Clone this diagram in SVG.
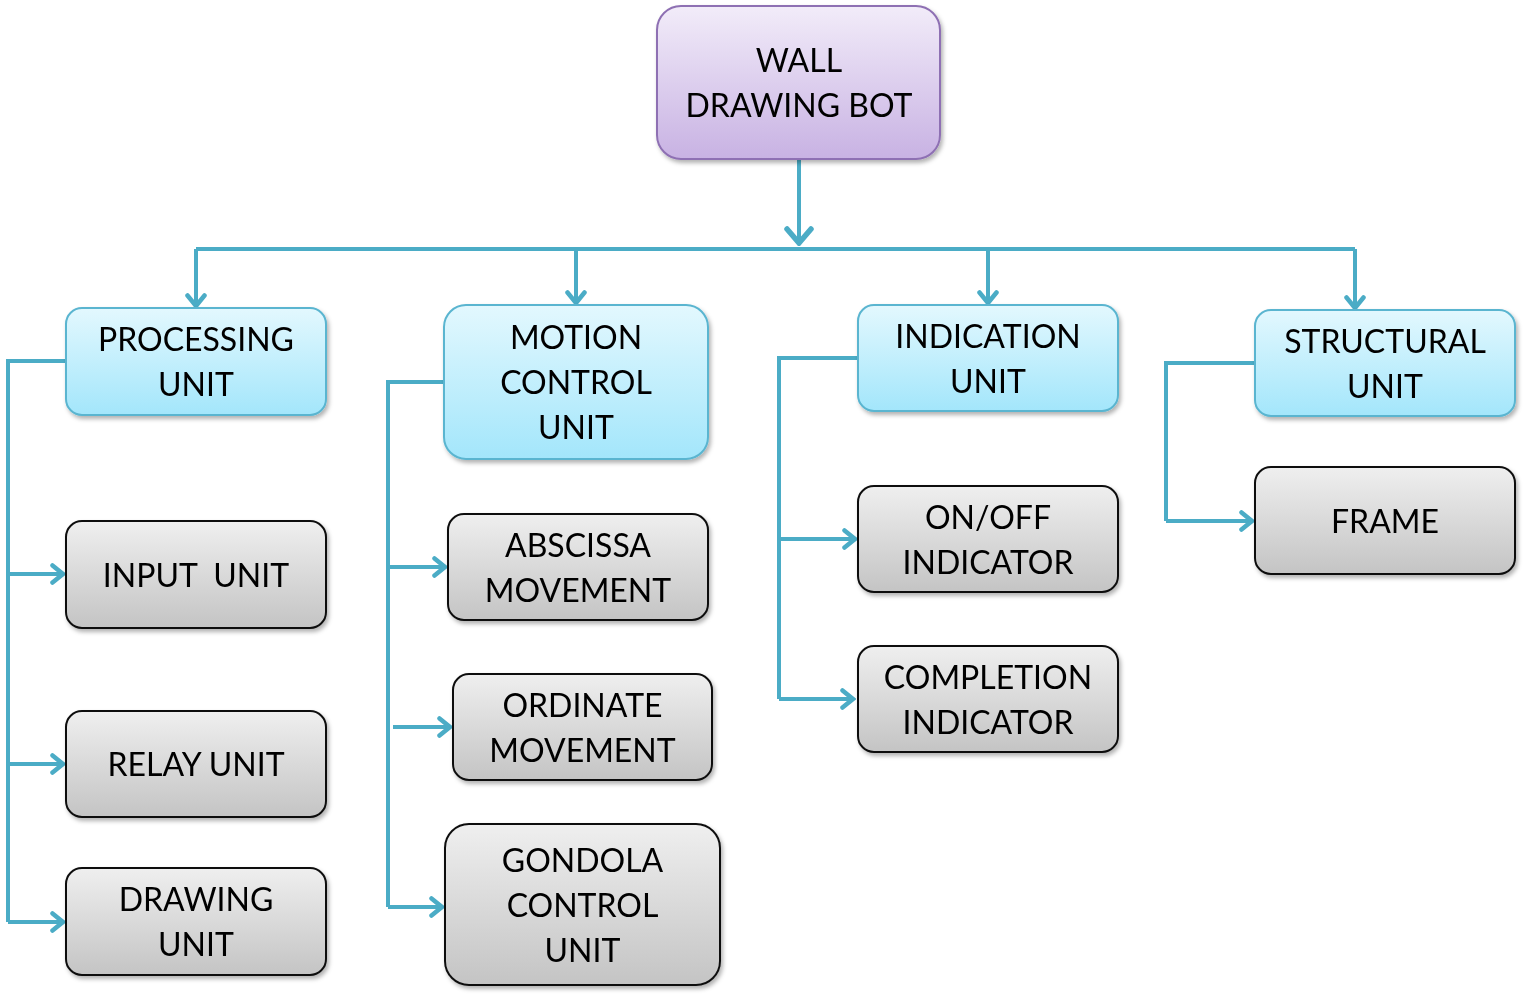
<svg xmlns="http://www.w3.org/2000/svg" width="1530" height="1005" viewBox="0 0 1530 1005">
<style>
text{font-family:Lato,"Open Sans","Liberation Sans",sans-serif;font-size:32px;fill:#000;text-anchor:middle}
.c{fill:none;stroke:#4bacc6;stroke-width:4;stroke-linejoin:miter}
.blue{fill:url(#gBlue);stroke:#5ab5d0;stroke-width:2}
.gray{fill:url(#gGray);stroke:#111;stroke-width:2}
.top{fill:url(#gPurple);stroke:#8e70b3;stroke-width:2}
</style>
<defs>
<linearGradient id="gBlue" x1="0" y1="0" x2="0" y2="1"><stop offset="0" stop-color="#e3f8fe"/><stop offset="1" stop-color="#a3e6fb"/></linearGradient>
<linearGradient id="gGray" x1="0" y1="0" x2="0" y2="1"><stop offset="0" stop-color="#efefef"/><stop offset="1" stop-color="#c4c4c4"/></linearGradient>
<linearGradient id="gPurple" x1="0" y1="0" x2="0" y2="1"><stop offset="0" stop-color="#f2ecf9"/><stop offset="1" stop-color="#c8b2e3"/></linearGradient>
<filter id="sh" x="-10%" y="-10%" width="130%" height="140%"><feDropShadow dx="2" dy="3" stdDeviation="2" flood-color="#000" flood-opacity="0.3"/></filter>
<marker id="ah" viewBox="0 0 16 22" refX="13" refY="11" markerWidth="16" markerHeight="22" markerUnits="userSpaceOnUse" orient="auto"><path d="M2.5,2.5 L13,11 L2.5,19.5" fill="none" stroke="#4bacc6" stroke-width="4.5" stroke-linecap="round"/></marker>
<marker id="ahBig" viewBox="0 0 20 30" refX="17" refY="15" markerWidth="20" markerHeight="30" markerUnits="userSpaceOnUse" orient="auto"><path d="M3,3 L17,15 L3,27" fill="none" stroke="#4bacc6" stroke-width="5.5" stroke-linecap="round"/></marker>
</defs>
<rect width="1530" height="1005" fill="#fff"/>
<g id="connectors">
<path class="c" d="M799,160 V243" stroke-width="5" marker-end="url(#ahBig)"/>
<path class="c" d="M196,249 H1355"/>
<path class="c" d="M196,249 V306" marker-end="url(#ah)"/>
<path class="c" d="M576,249 V303" marker-end="url(#ah)"/>
<path class="c" d="M988,249 V303" marker-end="url(#ah)"/>
<path class="c" d="M1355,249 V308" marker-end="url(#ah)"/>
<path class="c" d="M66,361 H8 V922"/>
<path class="c" d="M8,574 H63" marker-end="url(#ah)"/>
<path class="c" d="M8,764 H63" marker-end="url(#ah)"/>
<path class="c" d="M8,922 H63" marker-end="url(#ah)"/>
<path class="c" d="M444,382 H388 V907"/>
<path class="c" d="M388,567 H445" marker-end="url(#ah)"/>
<path class="c" d="M393,727 H450" marker-end="url(#ah)"/>
<path class="c" d="M388,907 H442" marker-end="url(#ah)"/>
<path class="c" d="M858,358 H779 V699"/>
<path class="c" d="M779,539 H855" marker-end="url(#ah)"/>
<path class="c" d="M779,699 H853" marker-end="url(#ah)"/>
<path class="c" d="M1255,363 H1166 V521"/>
<path class="c" d="M1166,521 H1252" marker-end="url(#ah)"/>
</g>
<g id="wall-drawing-bot" filter="url(#sh)"><rect class="top" x="657" y="6" width="283" height="153" rx="24"/><text x="799" y="71.5">WALL</text><text x="799" y="116.5">DRAWING BOT</text></g>
<g id="processing-unit" filter="url(#sh)"><rect class="blue" x="66" y="308" width="260" height="107" rx="16"/><text x="196" y="351">PROCESSING</text><text x="196" y="396">UNIT</text></g>
<g id="motion-control-unit" filter="url(#sh)"><rect class="blue" x="444" y="305" width="264" height="154" rx="22"/><text x="576" y="349">MOTION</text><text x="576" y="394">CONTROL</text><text x="576" y="439">UNIT</text></g>
<g id="indication-unit" filter="url(#sh)"><rect class="blue" x="858" y="305" width="260" height="106" rx="16"/><text x="988" y="347.5">INDICATION</text><text x="988" y="392.5">UNIT</text></g>
<g id="structural-unit" filter="url(#sh)"><rect class="blue" x="1255" y="310" width="260" height="106" rx="16"/><text x="1385" y="352.5">STRUCTURAL</text><text x="1385" y="397.5">UNIT</text></g>
<g id="input-unit" filter="url(#sh)"><rect class="gray" x="66" y="521" width="260" height="107" rx="16"/><text x="196" y="586.5" xml:space="preserve">INPUT  UNIT</text></g>
<g id="relay-unit" filter="url(#sh)"><rect class="gray" x="66" y="711" width="260" height="106" rx="16"/><text x="196" y="776">RELAY UNIT</text></g>
<g id="drawing-unit" filter="url(#sh)"><rect class="gray" x="66" y="868" width="260" height="107" rx="16"/><text x="196" y="911">DRAWING</text><text x="196" y="956">UNIT</text></g>
<g id="abscissa-movement" filter="url(#sh)"><rect class="gray" x="448" y="514" width="260" height="106" rx="16"/><text x="578" y="556.5">ABSCISSA</text><text x="578" y="601.5">MOVEMENT</text></g>
<g id="ordinate-movement" filter="url(#sh)"><rect class="gray" x="453" y="674" width="259" height="106" rx="16"/><text x="582.5" y="716.5">ORDINATE</text><text x="582.5" y="761.5">MOVEMENT</text></g>
<g id="gondola-control-unit" filter="url(#sh)"><rect class="gray" x="445" y="824" width="275" height="161" rx="24"/><text x="582.5" y="871.5">GONDOLA</text><text x="582.5" y="916.5">CONTROL</text><text x="582.5" y="961.5">UNIT</text></g>
<g id="on-off-indicator" filter="url(#sh)"><rect class="gray" x="858" y="486" width="260" height="106" rx="16"/><text x="988" y="528.5">ON/OFF</text><text x="988" y="573.5">INDICATOR</text></g>
<g id="completion-indicator" filter="url(#sh)"><rect class="gray" x="858" y="646" width="260" height="106" rx="16"/><text x="988" y="688.5">COMPLETION</text><text x="988" y="733.5">INDICATOR</text></g>
<g id="frame" filter="url(#sh)"><rect class="gray" x="1255" y="467" width="260" height="107" rx="16"/><text x="1385" y="532.5">FRAME</text></g>
</svg>
